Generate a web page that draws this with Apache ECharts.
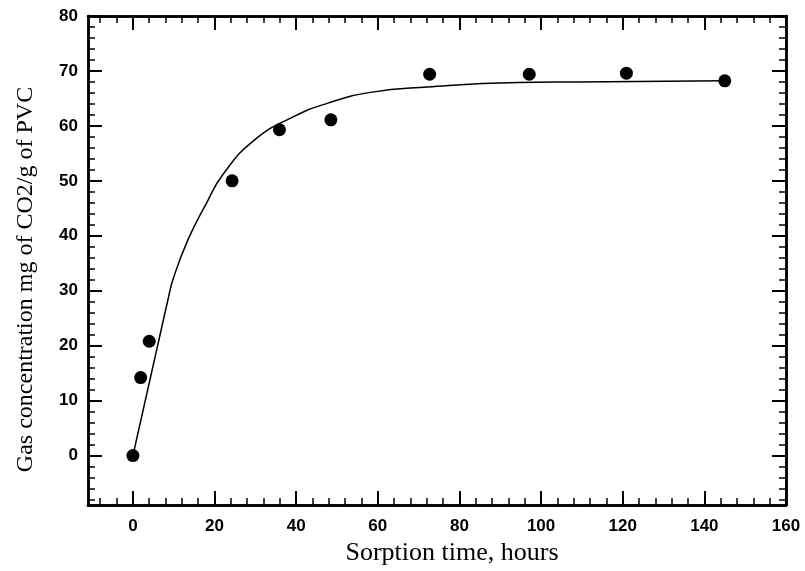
<!DOCTYPE html>
<html>
<head>
<meta charset="utf-8">
<script src="https://cdn.jsdelivr.net/npm/echarts@6/dist/echarts.min.js"></script>
<style>
  html, body { margin: 0; padding: 0; background: #fff; }
  #draw_area { width: 805px; height: 571px; }
</style>
</head>
<body>
<div id="draw_area"></div>
<script>
"use strict";

// measured points (sorption time in hours, gas concentration)
var obsTime = [0, 1.9, 4.0, 24.3, 35.9, 48.5, 72.7, 97.1, 120.9, 145.0];
var obsConc = [0, 14.2, 20.8, 50.0, 59.3, 61.1, 69.4, 69.4, 69.6, 68.2];

// fitted curve
var fitTime = [0.25, 4.3, 6.3, 8.6, 9.8, 13.5, 18.0, 22.1, 29.9, 39.4, 47.6, 58.2, 72.2, 94.3, 109, 145];
var fitConc = [0.8, 14.2, 20.8, 28.4, 32.0, 39.3, 45.9, 51.2, 57.5, 61.7, 64.1, 66.1, 67.1, 67.9, 68.0, 68.2];

// tick positions
var xMajor = [0, 20, 40, 60, 80, 100, 120, 140, 160];
var xMinor = [-8, -4, 4, 8, 12, 16, 24, 28, 32, 36, 44, 48, 52, 56, 64, 68, 72, 76, 84, 88, 92, 96,
              104, 108, 112, 116, 124, 128, 132, 136, 144, 148, 152, 156];
var yMajor = [0, 10, 20, 30, 40, 50, 60, 70, 80];
var yMinor = [-8, -6, -4, -2, 2, 4, 6, 8, 12, 14, 16, 18, 22, 24, 26, 28, 32, 34, 36, 38, 42, 44, 46, 48,
              52, 54, 56, 58, 62, 64, 66, 68, 72, 74, 76, 78];

var xName = 'Sorption time, hours';
var yName = 'Gas concentration mg of CO2/g of PVC';

var X_MIN = -11, X_MAX = 160, Y_MIN = -9, Y_MAX = 80;

function zip(a, b) {
    return a.map(function (v, i) { return [v, b[i]]; });
}

var labelStyle = {
    color: '#000',
    fontFamily: 'Liberation Sans, Arial, sans-serif',
    fontWeight: 'bold',
    fontSize: 17
};

var nameFont = 'Liberation Serif, Times New Roman, serif';

// one axis per side for major ticks, another for minor ones
function makeX(pos, ticks, len, withLabel) {
    var ax = {
        type: 'value',
        position: pos,
        min: X_MIN,
        max: X_MAX,
        splitLine: { show: false },
        axisLine: { show: true, onZero: false, lineStyle: { color: '#000', width: 2.5 } },
        axisTick: { show: true, inside: true, length: len, customValues: ticks,
                    lineStyle: { color: '#000', width: len > 10 ? 2 : 1.5 } },
        axisLabel: { show: false }
    };
    if (withLabel) {
        ax.axisLabel = Object.assign({ show: true, margin: 13, customValues: xMajor }, labelStyle);
        ax.name = xName;
        ax.nameLocation = 'middle';
        ax.nameGap = 33;
        ax.nameTextStyle = { color: '#000', fontFamily: nameFont, fontSize: 26, padding: [0, 0, 0, 30] };
    }
    return ax;
}

function makeY(pos, ticks, len, withLabel) {
    var ax = {
        type: 'value',
        position: pos,
        min: Y_MIN,
        max: Y_MAX,
        splitLine: { show: false },
        axisLine: { show: true, onZero: false, lineStyle: { color: '#000', width: 2.5 } },
        axisTick: { show: true, inside: true, length: len, customValues: ticks,
                    lineStyle: { color: '#000', width: len > 10 ? 2 : 1.5 } },
        axisLabel: { show: false }
    };
    if (withLabel) {
        ax.axisLabel = Object.assign({ show: true, margin: 10, customValues: yMajor }, labelStyle);
        ax.name = yName;
        ax.nameLocation = 'middle';
        ax.nameGap = 50;
        ax.nameTextStyle = { color: '#000', fontFamily: nameFont, fontSize: 24, padding: [0, 38, 0, 0] };
    }
    return ax;
}

const option = {
    animation: false,
    backgroundColor: '#fff',
    grid: { left: 88, right: 19, top: 16, bottom: 66, containLabel: false },
    xAxis: [
        makeX('bottom', xMajor, 14, true),
        makeX('bottom', xMinor, 7, false),
        makeX('top', xMajor, 14, false),
        makeX('top', xMinor, 7, false)
    ],
    yAxis: [
        makeY('left', yMajor, 14, true),
        makeY('left', yMinor, 7, false),
        makeY('right', yMajor, 14, false),
        makeY('right', yMinor, 7, false)
    ],
    series: [
        {
            type: 'line',
            xAxisIndex: 0,
            yAxisIndex: 0,
            data: zip(fitTime, fitConc),
            smooth: 0.5,
            showSymbol: false,
            symbol: 'none',
            lineStyle: { color: '#000', width: 1.5 },
            z: 2
        },
        {
            type: 'scatter',
            xAxisIndex: 0,
            yAxisIndex: 0,
            data: zip(obsTime, obsConc),
            symbol: 'circle',
            symbolSize: 13,
            itemStyle: { color: '#000', opacity: 1 },
            z: 3
        }
    ]
};

var chart_object = echarts.init(document.getElementById('draw_area'));
chart_object.setOption(option);
</script>
</body>
</html>
